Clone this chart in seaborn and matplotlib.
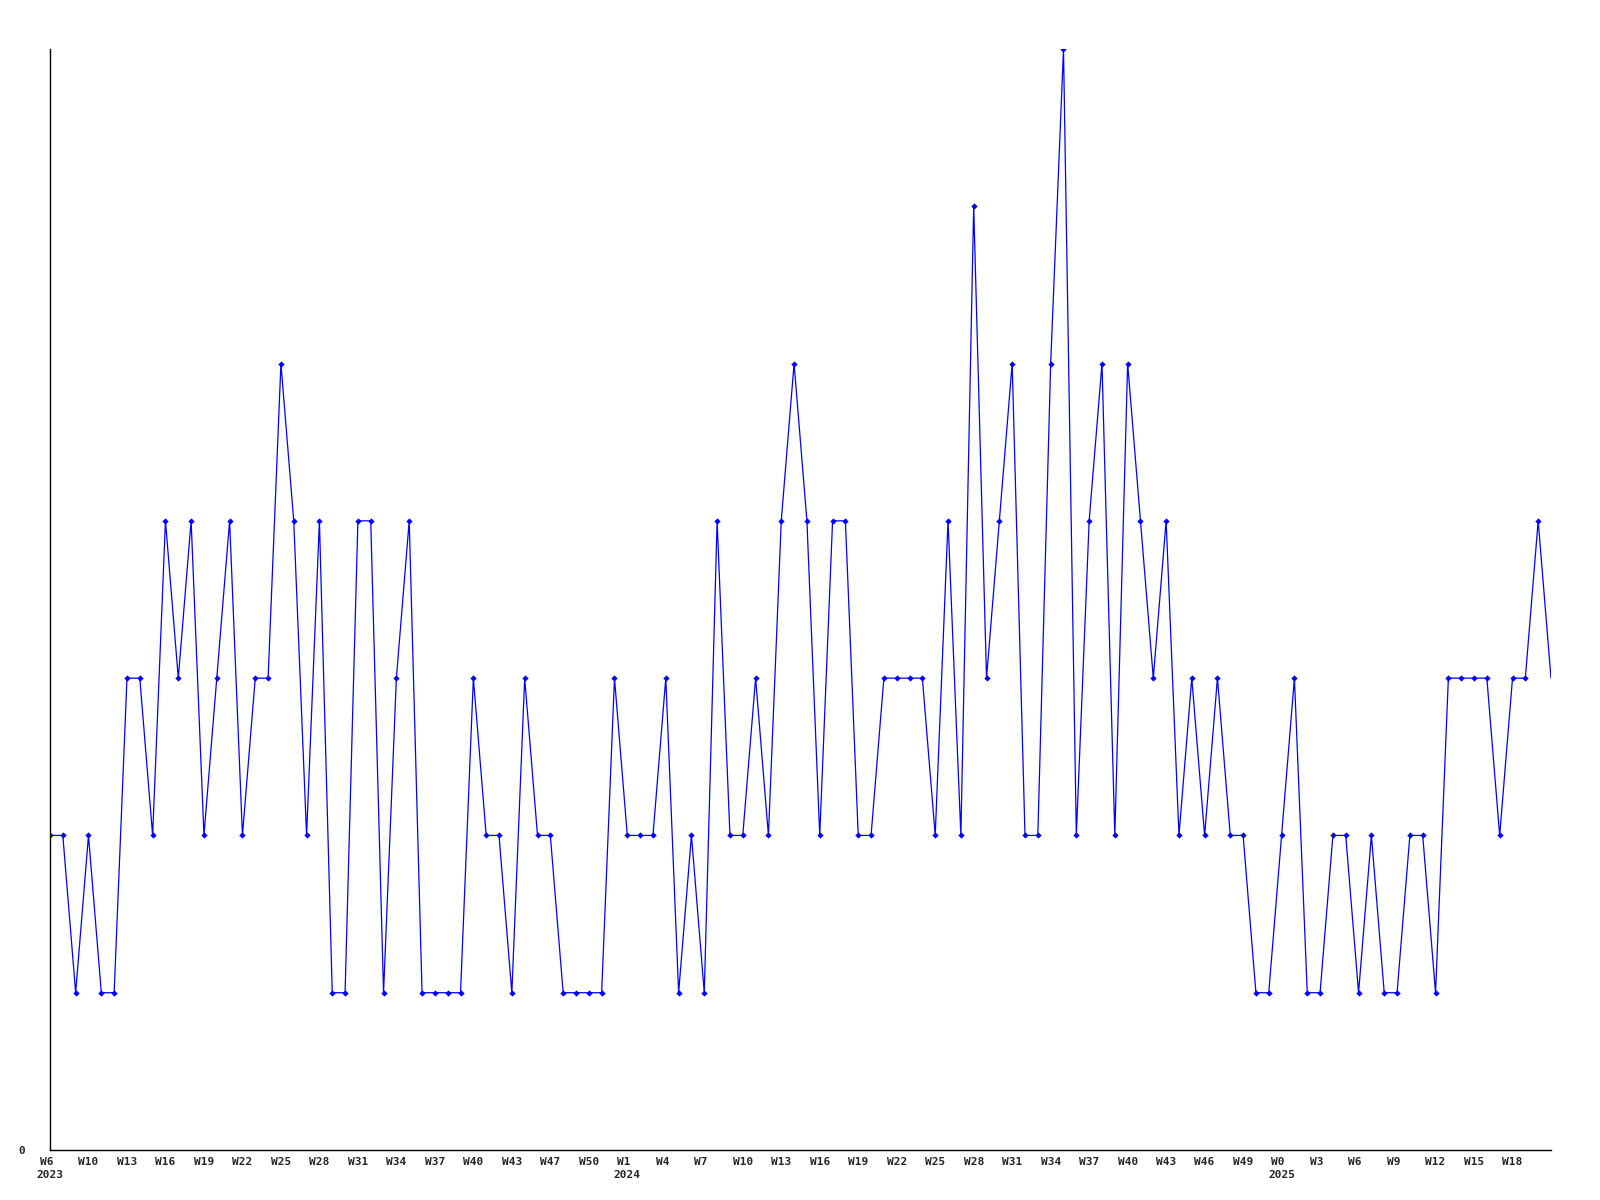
"""
Weekly count line chart (W6 2023 - W21 2025)
"""

import pandas as pd
import matplotlib
matplotlib.use("Agg")
import matplotlib.pyplot as plt
import seaborn as sns

# weekly values, one per week
counts = [
    2, 2, 1, 2, 1, 1, 3, 3, 2, 4, 3, 4, 2, 3, 4, 2, 3, 3, 5, 4,
    2, 4, 1, 1, 4, 4, 1, 3, 4, 1, 1, 1, 1, 3, 2, 2, 1, 3, 2, 2,
    1, 1, 1, 1, 3, 2, 2, 2, 3, 1, 2, 1, 4, 2, 2, 3, 2, 4, 5, 4,
    2, 4, 4, 2, 2, 3, 3, 3, 3, 2, 4, 2, 6, 3, 4, 5, 2, 2, 5, 7,
    2, 4, 5, 2, 5, 4, 3, 4, 2, 3, 2, 3, 2, 2, 1, 1, 2, 3, 1, 1,
    2, 2, 1, 2, 1, 1, 2, 2, 1, 3, 3, 3, 3, 2, 3, 3, 4, 3,
]

# tick labels, every third week
week_labels = [
    "W6", "W10", "W13", "W16", "W19", "W22", "W25", "W28", "W31", "W34",
    "W37", "W40", "W43", "W47", "W50", "W1", "W4", "W7", "W10", "W13",
    "W16", "W19", "W22", "W25", "W28", "W31", "W34", "W37", "W40", "W43",
    "W46", "W49", "W0", "W3", "W6", "W9", "W12", "W15", "W18",
]
# year shown under the first week of each year (tick index -> year)
year_marks = {0: "2023", 15: "2024", 32: "2025"}


def main():
    df = pd.DataFrame({"week": range(len(counts)), "count": counts})

    sns.set_style("white")
    plt.rcParams["font.family"] = ["DejaVu Sans Mono"]

    fig = plt.figure(figsize=(16, 12), dpi=100)
    ax = fig.add_axes([50 / 1600, 1 - 1150 / 1200, 1501 / 1600, 1101 / 1200])

    sns.lineplot(
        data=df, x="week", y="count", ax=ax,
        color="#0000ff", linewidth=0.9,
        marker="D", markersize=3.2, markeredgewidth=0,
        markevery=list(range(len(counts) - 1)),
    )

    # x axis ticks (week names padded to 3 chars like the fixed-width original)
    ticks = list(range(0, len(counts), 3))[: len(week_labels)]
    labels = []
    for i, w in enumerate(week_labels):
        w = w.ljust(3)
        if i in year_marks:
            labels.append(w + "\n" + year_marks[i])
        else:
            labels.append(w)
    ax.set_xticks(ticks)
    ax.set_xticklabels(labels, fontsize=8, fontweight="bold", linespacing=1.4)
    ax.set_xlim(0, len(counts) - 1)

    ax.set_ylim(0, max(counts))
    ax.set_yticks([0])
    ax.set_yticklabels(["0"], fontsize=8, fontweight="bold")

    ax.tick_params(axis="x", length=0, pad=5)
    ax.tick_params(axis="y", length=0, pad=18)
    ax.set_xlabel("")
    ax.set_ylabel("")

    sns.despine(ax=ax)
    for side in ("left", "bottom"):
        ax.spines[side].set_color("black")
        ax.spines[side].set_linewidth(1.0)

    fig.savefig("out.png", dpi=100)
    plt.close(fig)


if __name__ == "__main__":
    main()
